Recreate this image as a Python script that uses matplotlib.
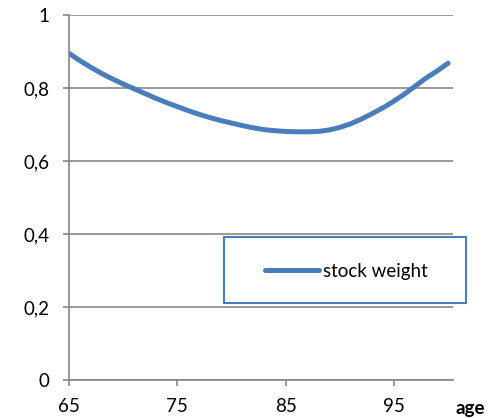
import matplotlib.pyplot as plt
from matplotlib.patches import Rectangle

# Stock weight by age
ages = list(range(65, 101))
stock_weight = [0.895, 0.875, 0.857, 0.840, 0.825, 0.811, 0.798, 0.785, 0.772,
                0.760, 0.749, 0.738, 0.728, 0.719, 0.711, 0.704, 0.697, 0.691,
                0.686, 0.683, 0.681, 0.680, 0.680, 0.681, 0.685, 0.692, 0.702,
                0.715, 0.730, 0.746, 0.764, 0.784, 0.806, 0.828, 0.847, 0.868]

x_ticks = [65, 75, 85, 95]
y_ticks = [0, 0.2, 0.4, 0.6, 0.8, 1]
y_labels = ['0', '0,2', '0,4', '0,6', '0,8', '1']

plt.rcParams['font.family'] = ['Lato', 'DejaVu Sans']
blue = '#4A7EBB'
grey = '#878787'

fig = plt.figure(figsize=(4.93, 4.18), dpi=100)
W, H = 493, 418
ax = fig.add_axes([69 / W, 1 - 380 / H, 384 / W, 365 / H])

ax.plot(ages, stock_weight, color=blue, linewidth=3.6, solid_capstyle='round',
        label='stock weight')

ax.set_xlim(65, 100.45)
ax.set_ylim(0, 1)
ax.set_xticks(x_ticks)
ax.set_yticks(y_ticks)
ax.set_yticklabels(y_labels)
ax.yaxis.grid(True, color=grey, linewidth=1.2)
ax.set_axisbelow(True)

for side in ['top', 'right']:
    ax.spines[side].set_visible(False)
for side in ['left', 'bottom']:
    ax.spines[side].set_color(grey)
    ax.spines[side].set_linewidth(1.2)

ax.tick_params(axis='both', colors=grey, labelcolor='black', labelsize=13.5,
               length=4.3, width=1.2)
ax.tick_params(axis='y', pad=9.5)
ax.tick_params(axis='x', pad=8.5)

ax.text(470 / W, 1 - 414 / H, 'age', transform=fig.transFigure,
        ha='center', va='baseline', fontsize=13.5, fontweight='bold')

# Legend box
box = Rectangle((224 / W, 1 - 303 / H), 242 / W, 66 / H, transform=fig.transFigure,
                facecolor='white', edgecolor=blue, linewidth=1.5, zorder=5)
fig.patches.append(box)
leg = fig.legend(loc='center left', bbox_to_anchor=(265 / W, 1 - 271 / H),
                 frameon=False, fontsize=13.5, handlelength=2.9, handletextpad=0.2,
                 borderaxespad=0, borderpad=0)
leg.set_zorder(6)

fig.savefig('out.png', dpi=100)
